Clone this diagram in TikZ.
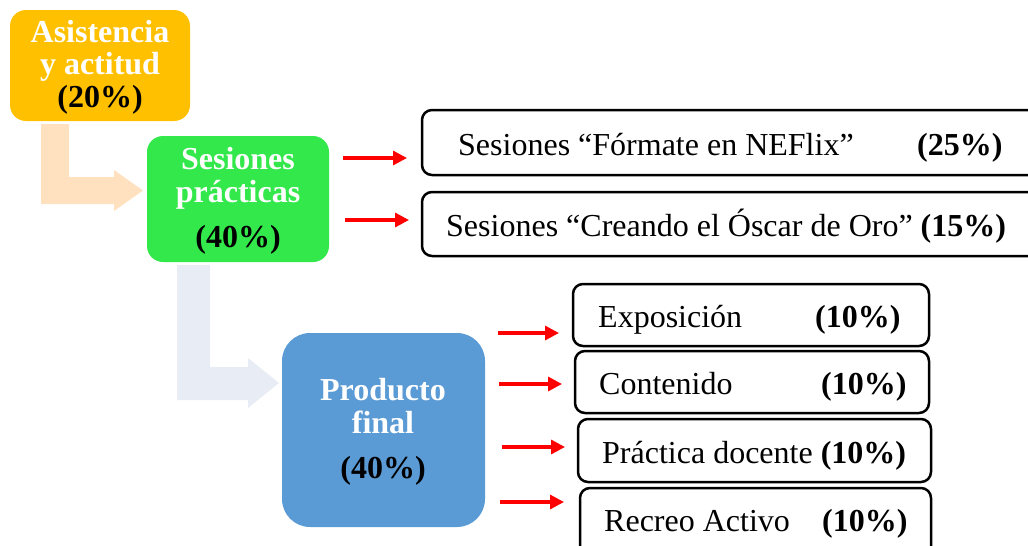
\documentclass[tikz,border=0pt]{standalone}
\usepackage{fontspec}
\setmainfont{Liberation Serif}
\usetikzlibrary{arrows.meta}
\definecolor{cOrange}{HTML}{FFC000}
\definecolor{cGreen}{HTML}{33E84B}
\definecolor{cBlue}{HTML}{5B9BD5}
\definecolor{cPeach}{HTML}{FFE1C0}
\definecolor{cPale}{HTML}{E8ECF5}
\definecolor{cRed}{HTML}{FF0000}
\tikzset{
  cbox/.style={rounded corners=16pt, inner sep=0pt},
  wbox/.style={draw=black, fill=white, line width=2.5pt, rounded corners=10pt, inner sep=0pt},
  txt/.style={inner sep=0pt, anchor=base west, font=\fontsize{32}{33}\selectfont},
  ctxt/.style={inner sep=0pt, anchor=base, font=\fontsize{32}{33}\selectfont\bfseries},
  redarrow/.style={draw=cRed, line width=3.2pt, -{Triangle[length=14pt,width=14pt]}},
}
\begin{document}
\begin{tikzpicture}[x=1pt, y=-1pt]
\useasboundingbox (0,0) rectangle (1028,546);
\clip (0,0) rectangle (1028,546);

% bent arrows
\fill[cPeach] (41,124) -- (69,124) -- (69,177) -- (114,177) -- (114,170) -- (143,190.5) -- (114,211) -- (114,204) -- (41,204) -- cycle;
\fill[cPale] (177,265) -- (210,265) -- (210,367) -- (248,367) -- (248,358) -- (279,383) -- (248,408) -- (248,400) -- (177,400) -- cycle;

% colored boxes
\node[cbox, fill=cOrange, minimum width=180pt, minimum height=111pt] (asis) at (100,65.5) {};
\node[cbox, fill=cGreen, minimum width=182pt, minimum height=126pt] (ses) at (238,199) {};
\node[cbox, rounded corners=28pt, fill=cBlue, minimum width=203pt, minimum height=194pt] (prod) at (383.5,430) {};

\node[ctxt, text=white] (asis1) at (100,42) {Asistencia};
\node[ctxt, text=white] (asis2) at (100,74) {y actitud};
\node[ctxt, text=black] (asis3) at (100,107) {(20\%)};

\node[ctxt, text=white] (ses1) at (238,169) {Sesiones};
\node[ctxt, text=white] (ses2) at (238,202) {prácticas};
\node[ctxt, text=black] (ses3) at (238,247) {(40\%)};

\node[ctxt, text=white] (prod1) at (383,400) {Producto};
\node[ctxt, text=white] (prod2) at (383,433) {final};
\node[ctxt, text=black] (prod3) at (383,478) {(40\%)};

% right boxes
\node[wbox, minimum width=640pt, minimum height=65pt] (b1) at (742,142.5) {};
\node[wbox, minimum width=640pt, minimum height=64pt] (b2) at (742,224) {};
\node[wbox, minimum width=356pt, minimum height=62pt] (b3) at (751,315) {};
\node[wbox, minimum width=354pt, minimum height=62pt] (b4) at (752,382) {};
\node[wbox, minimum width=353pt, minimum height=63pt] (b5) at (754.5,450.5) {};
\node[wbox, minimum width=351pt, minimum height=72pt] (b6) at (755.5,524) {};

\node[txt] (t1) at (458,155) {Sesiones “Fórmate en NEFlix”};
\node[txt] (p1) at (917,155) {\textbf{(25\%)}};
\node[txt] (t2) at (446,236) {Sesiones “Creando el Óscar de Oro” \textbf{(15\%)}};
\node[txt] (t3) at (598,327) {Exposición};
\node[txt] (p3) at (815,327) {\textbf{(10\%)}};
\node[txt] (t4) at (599,394) {Contenido};
\node[txt] (p4) at (821,394) {\textbf{(10\%)}};
\node[txt] (t5) at (602,463) {Práctica docente \textbf{(10\%)}};
\node[txt] (t6) at (604,531) {Recreo Activo};
\node[txt] (p6) at (822,531) {\textbf{(10\%)}};

% red arrows
\coordinate (r1s) at (343,158); \coordinate (r1e) at (407,158);
\coordinate (r2s) at (345,220); \coordinate (r2e) at (409,220);
\coordinate (r3s) at (498,333); \coordinate (r3e) at (559,333);
\coordinate (r4s) at (499,384); \coordinate (r4e) at (562,384);
\coordinate (r5s) at (502,447); \coordinate (r5e) at (565,447);
\coordinate (r6s) at (500,502); \coordinate (r6e) at (564,502);
\draw[redarrow] (r1s) -- (r1e);
\draw[redarrow] (r2s) -- (r2e);
\draw[redarrow] (r3s) -- (r3e);
\draw[redarrow] (r4s) -- (r4e);
\draw[redarrow] (r5s) -- (r5e);
\draw[redarrow] (r6s) -- (r6e);
\end{tikzpicture}
\end{document}
